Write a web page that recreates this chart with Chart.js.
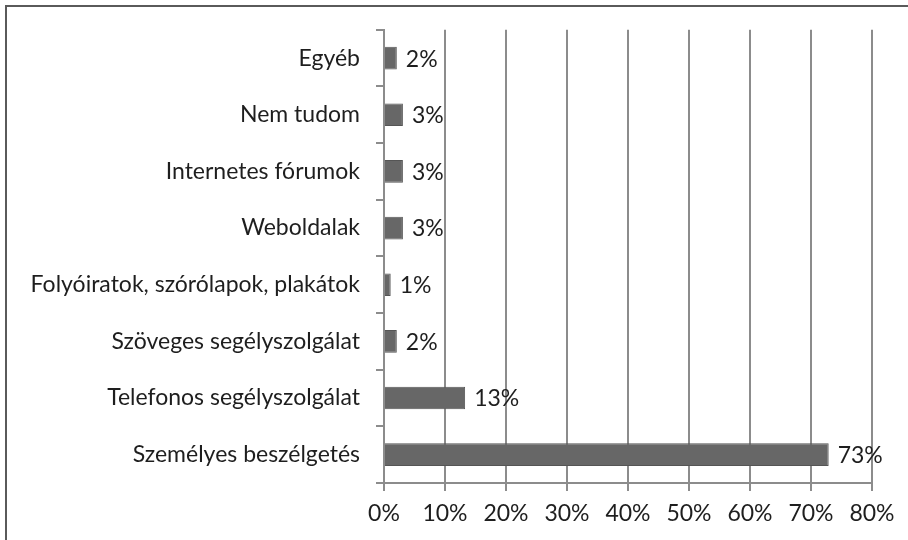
<!DOCTYPE html>
<html>
<head>
<meta charset="utf-8">
<script src="https://cdn.jsdelivr.net/npm/chart.js@4/dist/chart.umd.min.js"></script>
<style>
  html, body { margin: 0; padding: 0; background: #fff; overflow: hidden; }
  #wrap { position: relative; width: 908px; height: 540px; }
  #frame { position: absolute; left: 5px; top: 5px; width: 920px; height: 560px;
           border-top: 2px solid #5a5a5a; border-left: 2px solid #5a5a5a; box-sizing: border-box; }
  canvas { position: absolute; left: 0; top: 0; }
</style>
</head>
<body>
<div id="wrap">
  <div id="frame"></div>
  <canvas id="c" width="908" height="540"></canvas>
</div>
<script>
const categories = [
  "Egyéb",
  "Nem tudom",
  "Internetes fórumok",
  "Weboldalak",
  "Folyóiratok, szórólapok, plakátok",
  "Szöveges segélyszolgálat",
  "Telefonos segélyszolgálat",
  "Személyes beszélgetés"
];
const values = [2.1, 3.1, 3.1, 3.1, 1.1, 2.1, 13.3, 72.9];
const valueLabels = ["2%", "3%", "3%", "3%", "1%", "2%", "13%", "73%"];
const xTicks = [0, 10, 20, 30, 40, 50, 60, 70, 80];

const FONT = "Lato";
const FSIZE = 23;
const TEXT = "#1e1e1e";

const valueLabelPlugin = {
  id: "valueLabels",
  afterDatasetsDraw(chart) {
    const ctx = chart.ctx;
    const meta = chart.getDatasetMeta(0);
    ctx.save();
    ctx.font = FSIZE + "px " + FONT;
    ctx.fillStyle = TEXT;
    ctx.textAlign = "left";
    ctx.textBaseline = "middle";
    meta.data.forEach((bar, i) => {
      ctx.fillText(valueLabels[i], bar.x + 9, bar.y + 1);
    });
    ctx.restore();
  }
};

new Chart(document.getElementById("c"), {
  type: "bar",
  data: {
    labels: categories,
    datasets: [{
      data: values,
      backgroundColor: "#676767",
      borderColor: "#555555",
      borderWidth: 1,
      categoryPercentage: 1.0,
      barPercentage: 0.4
    }]
  },
  options: {
    indexAxis: "y",
    responsive: false,
    animation: false,
    layout: { padding: { left: 0, right: 36, top: 23, bottom: 0 } },
    plugins: { legend: { display: false }, tooltip: { enabled: false } },
    scales: {
      x: {
        min: 0, max: 80,
        afterBuildTicks(scale) { scale.ticks = xTicks.map(v => ({ value: v })); },
        ticks: {
          callback: v => v + "%",
          color: TEXT,
          font: { family: FONT, size: FSIZE },
          padding: 9,
          maxRotation: 0
        },
        grid: { color: "#8c8c8c", lineWidth: 2, tickLength: 8, drawTicks: true },
        border: { display: true, color: "#8c8c8c", width: 2 },
        afterFit(scale) { scale.height = 540 - 483; }
      },
      y: {
        ticks: {
          color: TEXT,
          font: { family: FONT, size: FSIZE },
          padding: 16
        },
        grid: { drawOnChartArea: false, drawTicks: true, tickLength: 8, color: "#8c8c8c", lineWidth: 2, offset: true },
        border: { display: true, color: "#8c8c8c", width: 2 },
        afterFit(scale) { scale.width = 384; }
      }
    }
  },
  plugins: [valueLabelPlugin]
});
</script>
</body>
</html>
